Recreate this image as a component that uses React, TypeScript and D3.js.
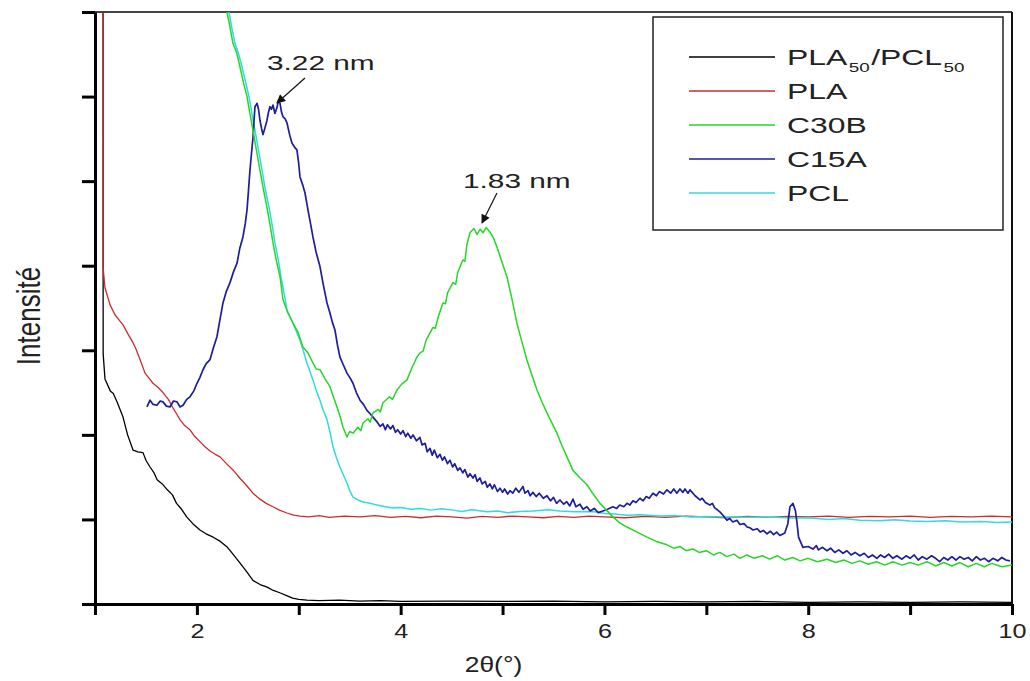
import { useRef, useEffect } from 'react';
import * as d3 from 'd3';

const W = 1030;
const H = 681;
const MARGIN = { top: 12, right: 18, bottom: 77, left: 95 };
const FONT = '"Liberation Sans", Arial, Helvetica, sans-serif';

const X_TICKS = [1, 2, 3, 4, 5, 6, 7, 8, 9, 10];
const X_LABELS = [2, 4, 6, 8, 10];
const Y_TICKS = [0, 1, 2, 3, 4, 5, 6, 7];

// 2θ (°), intensity (arb. units, one unit per y tick)
const PLA_PCL = [
  [1.079, 9], [1.08, 2.96], [1.098, 2.66], [1.15, 2.52], [1.18, 2.49], [1.22, 2.38], [1.275, 2.21],
  [1.32, 2.0], [1.373, 1.82], [1.42, 1.8], [1.471, 1.79], [1.5, 1.7], [1.54, 1.62], [1.58, 1.55],
  [1.61, 1.47], [1.66, 1.42], [1.71, 1.35], [1.76, 1.29], [1.8, 1.19], [1.85, 1.12], [1.9, 1.03],
  [1.96, 0.95], [2.03, 0.875], [2.09, 0.83], [2.16, 0.79], [2.23, 0.74], [2.3, 0.67], [2.36, 0.58],
  [2.42, 0.49], [2.49, 0.38], [2.55, 0.28], [2.62, 0.23], [2.69, 0.2], [2.75, 0.16], [2.82, 0.13],
  [2.88, 0.1], [2.94, 0.07], [3.0, 0.055], [3.08, 0.047], [3.2, 0.04], [3.4, 0.045], [3.6, 0.035],
  [3.8, 0.04], [4.0, 0.03], [4.5, 0.035], [5, 0.03], [5.5, 0.035], [6, 0.025], [6.5, 0.03],
  [7, 0.025], [7.5, 0.03], [8, 0.02], [8.5, 0.025], [9, 0.02], [9.5, 0.025], [10, 0.02],
];

const PLA = [
  [1.079, 9], [1.079, 3.985], [1.098, 3.74], [1.147, 3.54], [1.196, 3.42], [1.235, 3.36], [1.275, 3.3],
  [1.32, 3.2], [1.373, 3.09], [1.4, 3.02], [1.442, 2.89], [1.491, 2.73], [1.53, 2.67], [1.569, 2.61],
  [1.62, 2.56], [1.667, 2.5], [1.72, 2.42], [1.765, 2.32], [1.8, 2.25], [1.834, 2.18], [1.88, 2.11],
  [1.932, 2.06], [1.98, 1.98], [2.03, 1.92], [2.08, 1.86], [2.129, 1.81], [2.18, 1.77], [2.227, 1.74],
  [2.29, 1.66], [2.354, 1.585], [2.42, 1.49], [2.492, 1.395], [2.55, 1.31], [2.619, 1.24], [2.68, 1.19],
  [2.747, 1.15], [2.81, 1.11], [2.884, 1.076], [2.95, 1.05], [3.011, 1.04], [3.1, 1.03], [3.2, 1.045],
  [3.3, 1.025], [3.45, 1.04], [3.6, 1.03], [3.75, 1.045], [3.9, 1.025], [4.05, 1.035], [4.2, 1.02],
  [4.35, 1.04], [4.5, 1.03], [4.65, 1.015], [4.8, 1.035], [4.95, 1.025], [5.1, 1.04], [5.25, 1.03],
  [5.4, 1.02], [5.55, 1.035], [5.7, 1.025], [5.85, 1.04], [6.0, 1.03], [6.2, 1.02], [6.4, 1.035],
  [6.6, 1.025], [6.8, 1.04], [7.0, 1.03], [7.2, 1.02], [7.4, 1.035], [7.6, 1.025], [7.8, 1.035],
  [8.0, 1.03], [8.2, 1.04], [8.4, 1.025], [8.6, 1.035], [8.8, 1.03], [9.0, 1.04], [9.2, 1.025],
  [9.4, 1.035], [9.6, 1.03], [9.8, 1.04], [10, 1.03],
];

const C30B = [
  [2.28, 7.3], [2.295, 7.0], [2.32, 6.85], [2.354, 6.63], [2.39, 6.52], [2.423, 6.35], [2.46, 6.15],
  [2.492, 6.0], [2.52, 5.8], [2.551, 5.6], [2.585, 5.36], [2.619, 5.13], [2.65, 4.92], [2.688, 4.69],
  [2.72, 4.47], [2.747, 4.27], [2.78, 4.06], [2.816, 3.87], [2.845, 3.6], [2.89, 3.45], [2.943, 3.32],
  [2.99, 3.22], [3.041, 3.04], [3.09, 2.97], [3.139, 2.85], [3.17, 2.78], [3.208, 2.77], [3.26, 2.66],
  [3.306, 2.57], [3.34, 2.45], [3.375, 2.33], [3.41, 2.2], [3.434, 2.09], [3.473, 1.975], [3.5, 2.04],
  [3.532, 2.02], [3.58, 2.09], [3.61, 2.05], [3.63, 2.14], [3.68, 2.19], [3.7, 2.15], [3.728, 2.26],
  [3.78, 2.3], [3.8, 2.27], [3.826, 2.38], [3.89, 2.45], [3.92, 2.42], [3.964, 2.53], [4.01, 2.6],
  [4.062, 2.65], [4.11, 2.79], [4.16, 2.92], [4.19, 2.97], [4.22, 2.99], [4.25, 3.12], [4.317, 3.27],
  [4.34, 3.26], [4.37, 3.4], [4.415, 3.56], [4.44, 3.55], [4.46, 3.68], [4.513, 3.8], [4.54, 3.78],
  [4.56, 3.92], [4.611, 4.07], [4.63, 4.05], [4.65, 4.25], [4.68, 4.39], [4.72, 4.44], [4.749, 4.37],
  [4.78, 4.43], [4.808, 4.39], [4.84, 4.45], [4.876, 4.4], [4.91, 4.33], [4.945, 4.22], [4.99, 4.06],
  [5.043, 3.87], [5.09, 3.62], [5.141, 3.32], [5.19, 3.1], [5.239, 2.885], [5.29, 2.7], [5.338, 2.53],
  [5.39, 2.38], [5.436, 2.26], [5.48, 2.15], [5.534, 2.02], [5.58, 1.88], [5.632, 1.74], [5.691, 1.58],
  [5.76, 1.49], [5.828, 1.41], [5.89, 1.3], [5.956, 1.19], [6.02, 1.11], [6.083, 1.03], [6.15, 0.96],
  [6.221, 0.91], [6.32, 0.85], [6.417, 0.79], [6.51, 0.74], [6.613, 0.7], [6.68, 0.66], [6.74, 0.68],
  [6.8, 0.63], [6.868, 0.65], [6.93, 0.61], [7.0, 0.63], [7.07, 0.58], [7.133, 0.61], [7.2, 0.56],
  [7.27, 0.59], [7.33, 0.54], [7.398, 0.58], [7.47, 0.54], [7.55, 0.57], [7.62, 0.53], [7.7, 0.57],
  [7.77, 0.52], [7.85, 0.55], [7.92, 0.51], [8.0, 0.54], [8.09, 0.5], [8.184, 0.53], [8.27, 0.49],
  [8.35, 0.52], [8.43, 0.48], [8.507, 0.51], [8.59, 0.47], [8.67, 0.5], [8.75, 0.46], [8.831, 0.5],
  [8.92, 0.46], [9.0, 0.49], [9.08, 0.46], [9.165, 0.5], [9.25, 0.45], [9.33, 0.49], [9.41, 0.45],
  [9.489, 0.49], [9.57, 0.44], [9.65, 0.48], [9.73, 0.44], [9.8, 0.48], [9.9, 0.44], [10, 0.46],
];

const C15A = [
  [1.51, 2.33], [1.54, 2.41], [1.57, 2.36], [1.608, 2.35], [1.64, 2.4], [1.667, 2.39], [1.7, 2.34],
  [1.736, 2.33], [1.77, 2.4], [1.805, 2.39], [1.835, 2.33], [1.864, 2.35], [1.9, 2.42], [1.932, 2.45],
  [1.97, 2.52], [2.001, 2.61], [2.03, 2.68], [2.06, 2.77], [2.09, 2.84], [2.129, 2.89], [2.16, 3.02],
  [2.197, 3.16], [2.226, 3.36], [2.256, 3.56], [2.29, 3.7], [2.325, 3.8], [2.36, 3.93], [2.394, 4.03],
  [2.42, 4.2], [2.452, 4.34], [2.475, 4.5], [2.492, 4.66], [2.507, 4.9], [2.521, 5.13], [2.536, 5.33],
  [2.551, 5.52], [2.56, 5.7], [2.57, 5.88], [2.59, 5.92], [2.605, 5.85], [2.619, 5.72], [2.635, 5.62],
  [2.649, 5.55], [2.668, 5.63], [2.688, 5.72], [2.7, 5.8], [2.717, 5.88], [2.732, 5.85], [2.747, 5.9],
  [2.766, 5.8], [2.786, 5.87], [2.8, 5.95], [2.816, 5.92], [2.83, 5.82], [2.845, 5.76], [2.865, 5.74],
  [2.884, 5.69], [2.91, 5.55], [2.933, 5.45], [2.96, 5.4], [2.982, 5.37], [3.0, 5.2], [3.012, 5.05],
  [3.04, 4.95], [3.061, 4.86], [3.09, 4.66], [3.115, 4.5], [3.139, 4.34], [3.17, 4.16], [3.208, 3.99],
  [3.24, 3.78], [3.277, 3.56], [3.306, 3.44], [3.33, 3.33], [3.355, 3.24], [3.38, 3.06], [3.404, 2.92],
  [3.44, 2.82], [3.473, 2.73], [3.5, 2.68], [3.532, 2.61], [3.565, 2.5], [3.601, 2.41], [3.635, 2.36],
  [3.669, 2.29], [3.7, 2.25], [3.728, 2.21], [3.77, 2.15], [3.8, 2.1], [3.826, 2.13], [3.85, 2.06],
  [3.87, 2.12], [3.9, 2.07], [3.924, 2.11], [3.95, 2.03], [3.97, 2.06], [4.0, 2.01], [4.023, 2.05],
  [4.05, 1.98], [4.07, 2.02], [4.1, 1.96], [4.121, 2.0], [4.155, 1.93], [4.189, 1.97], [4.21, 1.88],
  [4.24, 1.9], [4.26, 1.8], [4.288, 1.84], [4.31, 1.76], [4.33, 1.82], [4.36, 1.73], [4.386, 1.77],
  [4.41, 1.7], [4.43, 1.74], [4.46, 1.66], [4.484, 1.7], [4.51, 1.62], [4.53, 1.66], [4.56, 1.58],
  [4.582, 1.61], [4.61, 1.55], [4.63, 1.59], [4.66, 1.5], [4.68, 1.54], [4.71, 1.49], [4.73, 1.53],
  [4.75, 1.45], [4.778, 1.49], [4.8, 1.42], [4.83, 1.45], [4.85, 1.38], [4.876, 1.42], [4.9, 1.36],
  [4.92, 1.41], [4.95, 1.33], [4.975, 1.37], [5.0, 1.32], [5.02, 1.36], [5.05, 1.3], [5.073, 1.34],
  [5.1, 1.31], [5.13, 1.37], [5.16, 1.32], [5.2, 1.39], [5.22, 1.31], [5.25, 1.34], [5.27, 1.28],
  [5.298, 1.32], [5.33, 1.27], [5.36, 1.31], [5.4, 1.25], [5.436, 1.28], [5.47, 1.22], [5.5, 1.26],
  [5.53, 1.19], [5.563, 1.23], [5.6, 1.18], [5.63, 1.21], [5.66, 1.16], [5.691, 1.24], [5.72, 1.15],
  [5.76, 1.18], [5.79, 1.12], [5.828, 1.15], [5.86, 1.1], [5.9, 1.13], [5.94, 1.08], [5.985, 1.1],
  [6.03, 1.12], [6.083, 1.15], [6.12, 1.13], [6.15, 1.17], [6.19, 1.15], [6.221, 1.19], [6.25, 1.17],
  [6.28, 1.22], [6.31, 1.2], [6.348, 1.25], [6.38, 1.22], [6.41, 1.27], [6.44, 1.25], [6.476, 1.31],
  [6.51, 1.28], [6.54, 1.33], [6.58, 1.3], [6.613, 1.35], [6.65, 1.31], [6.68, 1.36], [6.71, 1.31],
  [6.741, 1.36], [6.77, 1.32], [6.79, 1.36], [6.82, 1.31], [6.839, 1.35], [6.89, 1.28], [6.937, 1.23],
  [6.96, 1.25], [6.99, 1.2], [7.035, 1.17], [7.06, 1.19], [7.08, 1.14], [7.133, 1.09], [7.17, 1.04],
  [7.202, 0.99], [7.23, 1.01], [7.26, 0.97], [7.3, 0.99], [7.33, 0.94], [7.37, 0.95], [7.4, 0.91],
  [7.43, 0.9], [7.457, 0.875], [7.5, 0.89], [7.53, 0.85], [7.56, 0.87], [7.595, 0.83], [7.63, 0.86],
  [7.66, 0.82], [7.69, 0.85], [7.722, 0.81], [7.77, 0.84], [7.8, 0.95], [7.821, 1.15], [7.85, 1.19],
  [7.875, 1.1], [7.89, 0.96], [7.905, 0.79], [7.948, 0.67], [8.0, 0.68], [8.046, 0.65], [8.08, 0.69],
  [8.1, 0.64], [8.14, 0.67], [8.184, 0.63], [8.22, 0.66], [8.26, 0.61], [8.3, 0.64], [8.341, 0.6],
  [8.38, 0.63], [8.42, 0.58], [8.46, 0.61], [8.507, 0.57], [8.55, 0.6], [8.59, 0.55], [8.63, 0.58],
  [8.674, 0.54], [8.71, 0.58], [8.75, 0.55], [8.79, 0.59], [8.831, 0.54], [8.87, 0.57], [8.92, 0.53],
  [8.96, 0.57], [9.0, 0.54], [9.04, 0.58], [9.08, 0.52], [9.12, 0.56], [9.165, 0.53], [9.21, 0.57],
  [9.25, 0.54], [9.29, 0.5], [9.33, 0.55], [9.37, 0.52], [9.41, 0.56], [9.45, 0.52], [9.489, 0.56],
  [9.53, 0.53], [9.57, 0.55], [9.61, 0.51], [9.65, 0.56], [9.69, 0.52], [9.73, 0.54], [9.77, 0.5],
  [9.813, 0.54], [9.86, 0.51], [9.9, 0.55], [9.94, 0.52], [9.98, 0.51],
];

const PCL = [
  [2.3, 7.3], [2.315, 7.0], [2.345, 6.8], [2.374, 6.63], [2.41, 6.5], [2.443, 6.35], [2.48, 6.16],
  [2.511, 6.0], [2.54, 5.8], [2.57, 5.6], [2.605, 5.36], [2.639, 5.13], [2.67, 4.91], [2.708, 4.69],
  [2.74, 4.47], [2.766, 4.27], [2.8, 4.06], [2.825, 3.87], [2.855, 3.68], [2.884, 3.48], [2.943, 3.32],
  [3.012, 3.12], [3.045, 2.99], [3.08, 2.85], [3.11, 2.75], [3.139, 2.65], [3.17, 2.53], [3.208, 2.41],
  [3.24, 2.29], [3.277, 2.18], [3.31, 2.01], [3.336, 1.86], [3.37, 1.73], [3.404, 1.62], [3.44, 1.52],
  [3.473, 1.43], [3.5, 1.34], [3.532, 1.265], [3.58, 1.23], [3.63, 1.206], [3.7, 1.19], [3.767, 1.17],
  [3.85, 1.15], [3.924, 1.135], [4.0, 1.14], [4.1, 1.12], [4.189, 1.13], [4.3, 1.11], [4.4, 1.125],
  [4.513, 1.11], [4.6, 1.095], [4.7, 1.115], [4.847, 1.09], [4.95, 1.1], [5.05, 1.08], [5.171, 1.095],
  [5.3, 1.1], [5.45, 1.115], [5.563, 1.1], [5.7, 1.09], [5.887, 1.095], [6.0, 1.07], [6.1, 1.065],
  [6.221, 1.05], [6.35, 1.055], [6.545, 1.04], [6.7, 1.045], [6.85, 1.03], [7.0, 1.035], [7.202, 1.03],
  [7.4, 1.025], [7.6, 1.03], [7.85, 1.017], [8.0, 1.02], [8.2, 1.0], [8.35, 1.01], [8.507, 0.99],
  [8.7, 0.985], [8.85, 0.995], [9.0, 0.98], [9.165, 0.975], [9.35, 0.985], [9.5, 0.97], [9.7, 0.975],
  [9.85, 0.965], [10, 0.97],
];

const LEGEND_LABELS = ['PLA/PCL', 'PLA', 'C30B', 'C15A', 'PCL'];
const COLORS = ['#000000', '#cc2b2b', '#27d627', '#1d1d9e', '#2fdcdc'];
const WIDTHS = [1.3, 1.3, 1.5, 1.7, 1.5];
const SERIES = [PLA_PCL, PLA, C30B, C15A, PCL];
// painting order (bottom to top)
const DRAW_ORDER = [0, 1, 4, 3, 2];

const PEAK_LABELS = ['3.22 nm', '1.83 nm'];
const PEAK_POS = [[2.786, 5.924], [4.798, 4.505]];
// pixel offsets from the arrow tip: arrow tail, text start
const PEAK_LAYOUT = [
  { tail: [28, -25], text: [-10, -33] },
  { tail: [15, -30], text: [-19, -35] },
];

export default function App() {
  const svgRef = useRef(null);

  useEffect(() => {
    const el = svgRef.current;
    if (!el) return;
    const svg = d3.select(el);
    svg.selectAll('*').remove();

    const x = d3.scaleLinear().domain([1, 10]).range([MARGIN.left, W - MARGIN.right]);
    const y = d3.scaleLinear().domain([0, 7]).range([H - MARGIN.bottom, MARGIN.top]);
    const [x0, x1] = x.range();
    const [y0, y1] = y.range();

    const defs = svg.append('defs');
    defs.append('clipPath').attr('id', 'plot-clip')
      .append('rect').attr('x', x0).attr('y', y1).attr('width', x1 - x0).attr('height', y0 - y1);
    defs.append('marker')
      .attr('id', 'arrow')
      .attr('viewBox', '0 0 10 10')
      .attr('refX', 9).attr('refY', 5)
      .attr('markerWidth', 11).attr('markerHeight', 9)
      .attr('markerUnits', 'userSpaceOnUse')
      .attr('orient', 'auto')
      .append('path').attr('d', 'M0,0 L10,5 L0,10 Z').attr('fill', '#111');

    svg.append('rect').attr('width', W).attr('height', H).attr('fill', '#fff');

    // frame (top + right)
    svg.append('line').attr('x1', x0).attr('x2', x1).attr('y1', y1).attr('y2', y1)
      .attr('stroke', '#444').attr('stroke-width', 2);
    svg.append('line').attr('x1', x1).attr('x2', x1).attr('y1', y1).attr('y2', y0)
      .attr('stroke', '#111').attr('stroke-width', 2);

    // curves
    const line = d3.line().x(d => x(d[0])).y(d => y(d[1]));
    const curves = svg.append('g').attr('clip-path', 'url(#plot-clip)');
    DRAW_ORDER.forEach(i => {
      curves.append('path')
        .attr('d', line(SERIES[i]))
        .attr('fill', 'none')
        .attr('stroke', COLORS[i])
        .attr('stroke-width', WIDTHS[i])
        .attr('stroke-linejoin', 'round');
    });

    // axes
    svg.append('g')
      .attr('transform', `translate(0,${y0})`)
      .call(d3.axisBottom(x).tickValues(X_TICKS).tickSize(11).tickSizeOuter(0).tickPadding(8)
        .tickFormat(d => (X_LABELS.includes(d) ? String(d) : '')))
      .call(s => s.select('.domain').attr('stroke', '#000').attr('stroke-width', 3))
      .call(s => s.selectAll('.tick line').attr('stroke', '#000').attr('stroke-width', 3))
      .call(s => s.selectAll('.tick text')
        .attr('fill', '#222').style('font-size', '21px').style('font-family', FONT)
        .attr('transform', 'scale(1.2,1)'));

    svg.append('g')
      .attr('transform', `translate(${x0},0)`)
      .call(d3.axisLeft(y).tickValues(Y_TICKS).tickSize(13).tickSizeOuter(0).tickFormat(() => ''))
      .call(s => s.select('.domain').attr('stroke', '#000').attr('stroke-width', 3))
      .call(s => s.selectAll('.tick line').attr('stroke', '#000').attr('stroke-width', 3));

    // axis titles
    svg.append('text')
      .attr('transform', `translate(${(x0 + x1) / 2 - 60},672) scale(1.2,1)`)
      .attr('text-anchor', 'middle')
      .style('font-family', FONT).style('font-size', '22px').attr('fill', '#222')
      .text('2θ(°)');
    svg.append('text')
      .attr('transform', `translate(40,${(y0 + y1) / 2 + 8}) scale(1.25,1) rotate(-90)`)
      .attr('text-anchor', 'middle')
      .style('font-family', FONT).style('font-size', '26px').attr('fill', '#222')
      .text('Intensité');

    // peak annotations
    PEAK_LABELS.forEach((label, i) => {
      const tx = x(PEAK_POS[i][0]);
      const ty = y(PEAK_POS[i][1]);
      const lay = PEAK_LAYOUT[i];
      svg.append('line')
        .attr('x1', tx + lay.tail[0]).attr('y1', ty + lay.tail[1])
        .attr('x2', tx).attr('y2', ty)
        .attr('stroke', '#111').attr('stroke-width', 1.2)
        .attr('marker-end', 'url(#arrow)');
      svg.append('text')
        .attr('transform', `translate(${tx + lay.text[0]},${ty + lay.text[1]}) scale(1.42,1)`)
        .style('font-family', FONT).style('font-size', '21px').attr('fill', '#222')
        .text(label);
    });

    // legend
    const lg = svg.append('g').attr('transform', 'translate(653,17)');
    lg.append('rect').attr('width', 350).attr('height', 213)
      .attr('fill', '#fff').attr('stroke', '#222').attr('stroke-width', 1.5);
    LEGEND_LABELS.forEach((label, i) => {
      const ry = 40 + i * 34;
      lg.append('line').attr('x1', 36).attr('x2', 122).attr('y1', ry).attr('y2', ry)
        .attr('stroke', COLORS[i]).attr('stroke-width', 1.4);
      const t = lg.append('text')
        .attr('transform', `translate(134,${ry + 8}) scale(1.45,1)`)
        .style('font-family', FONT).style('font-size', '22px').attr('fill', '#222');
      if (i === 0) {
        t.append('tspan').text('PLA');
        t.append('tspan').attr('dy', 7).attr('dx', 1).style('font-size', '13px').text('50');
        t.append('tspan').attr('dy', -7).attr('dx', 1).text('/PCL');
        t.append('tspan').attr('dy', 7).attr('dx', 1).style('font-size', '13px').text('50');
      } else {
        t.text(label);
      }
    });
  }, []);

  return (
    <div style={{ position: 'absolute', left: 0, top: 0, width: W, height: H }}>
      <svg ref={svgRef} width={W} height={H} style={{ display: 'block' }} />
    </div>
  );
}
